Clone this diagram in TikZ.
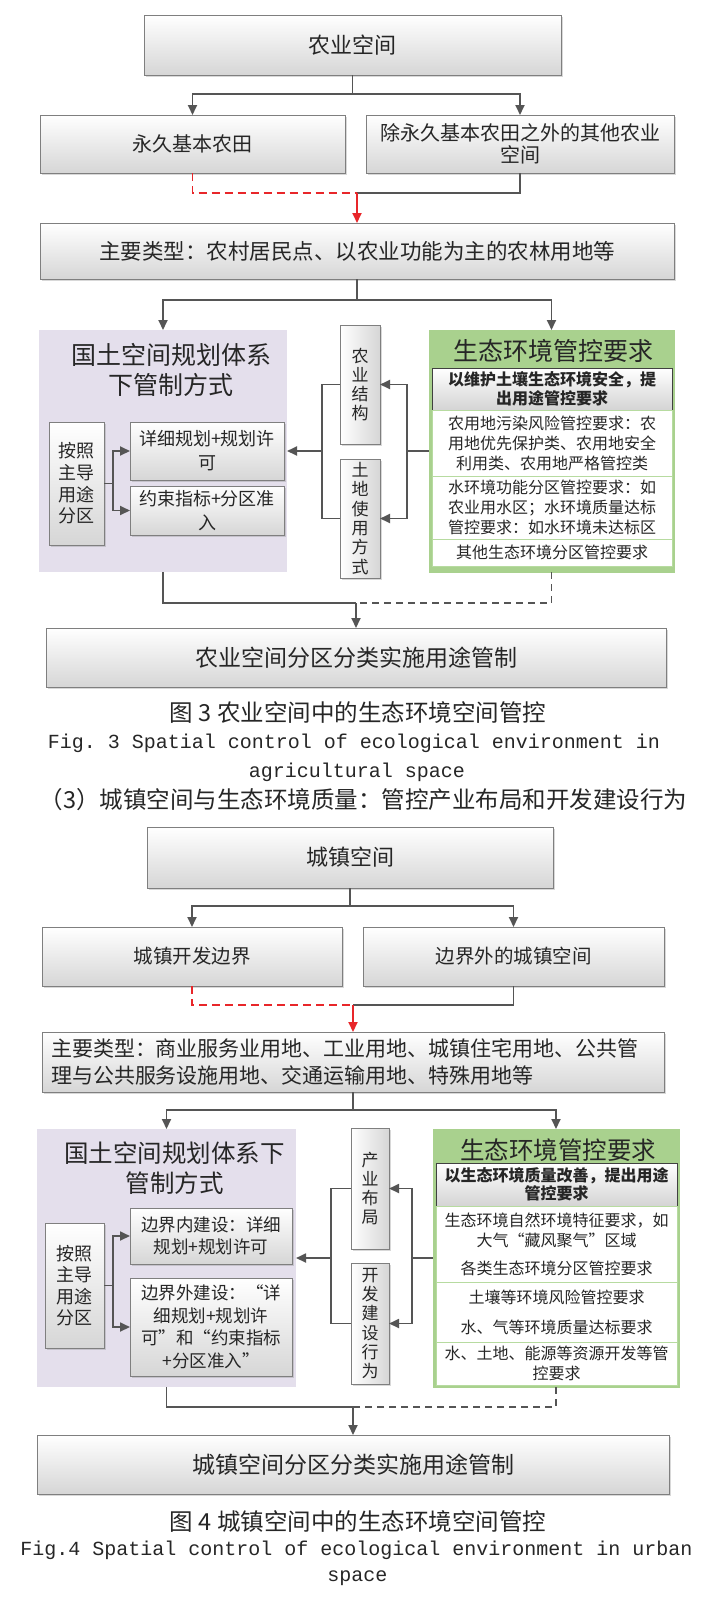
\documentclass[tikz,border=0pt]{standalone}
\usepackage{fontspec}
\setmainfont{Noto Sans CJK SC}
\setmonofont{Liberation Mono}
\usetikzlibrary{arrows.meta, positioning, shadows}

\definecolor{boxline}{HTML}{7F7F7F}
\definecolor{boxfill}{HTML}{D6D6D6}
\definecolor{linkgray}{HTML}{555555}
\definecolor{planpurple}{HTML}{E4DFEC}
\definecolor{ecogreen}{HTML}{A9D18E}
\definecolor{ecoline}{HTML}{B7DBA0}
\definecolor{linkred}{HTML}{E8262A}

\newcommand{\fsz}[2]{\fontsize{#1}{#2}\selectfont}

\begin{document}
\begin{tikzpicture}[
  x=1pt, y=-1pt,
  every node/.style={outer sep=0pt, inner sep=0pt, text=black!85},
  wh/.style 2 args={minimum width=#1pt, minimum height=#2pt},
  box/.style={draw=boxline, line width=0.8pt, top color=white, bottom color=boxfill,
              drop shadow={shadow xshift=1.5pt, shadow yshift=-1.5pt, opacity=0.3},
              align=center},
  vbox/.style={box, left color=white, right color=boxfill, text width=20pt,
               font=\fsz{17}{19.3}},
  panel/.style={fill=planpurple, draw=none},
  ecopanel/.style={fill=ecogreen, draw=ecogreen},
  headbox/.style={draw=black!75, line width=0.8pt, top color=white, bottom color=black!17,
                  drop shadow={shadow xshift=1pt, shadow yshift=-1pt, opacity=0.3},
                  font=\bfseries\fsz{16}{18.5}, align=center},
  ecorow/.style={fill=white, draw=ecoline, line width=0.8pt, align=center,
                 font=\fsz{16}{20}},
  title/.style={font=\fsz{25}{30}, align=center},
  link/.style={draw=linkgray, line width=1.8pt},
  dashlink/.style={link, dash pattern=on 7pt off 5pt},
  arrow/.style={link, -{Triangle[length=10pt, width=9pt]}},
  redlink/.style={draw=linkred, line width=1.8pt, dash pattern=on 8pt off 5pt},
  redarrow/.style={draw=linkred, line width=1.8pt, -{Triangle[length=10pt, width=9pt]}},
  caption/.style={font=\fsz{23.5}{26}},
  entext/.style={font=\ttfamily\fsz{20}{24}}
]
  \useasboundingbox (0,0) rectangle (718,1599);
  \fill[white] (0,0) rectangle (718,1599);

  % Fig. 3: agricultural space
  \node[box, wh={417}{60}, font=\fsz{22}{26}] (agri) at (352.5,45) {农业空间};
  \node[box, wh={305}{58}, font=\fsz{20}{22}] (perm) at (192.5,144) {永久基本农田};
  \node[box, wh={308}{58}, font=\fsz{20}{22}] (other) at (520,144)
    {除永久基本农田之外的其他农业\\空间};
  \node[box, wh={634}{56}, font=\fsz{21.5}{26}] (types) at (357,251)
    {主要类型：农村居民点、以农业功能为主的农林用地等};

  % planning panel (left)
  \node[panel, wh={248}{242}] (plan) at (163,451) {};
  \node[title] (plantitle) at (171,370) {国土空间规划体系\\下管制方式};
  \node[box, wh={55}{123}, font=\fsz{18}{21.7}] (zoning) at (76.5,483.5)
    {按照\\主导\\用途\\分区};
  \node[box, wh={154}{58}, font=\fsz{18}{24}] (detail) at (207,451) {详细规划+规划许\\可};
  \node[box, wh={154}{49}, font=\fsz{18}{24}] (quota) at (207,510.5) {约束指标+分区准\\入};

  % middle boxes
  \node[vbox, wh={40}{119}] (struct) at (360,384.5) {农\\业\\结\\构};
  \node[vbox, wh={40}{119}] (landuse) at (360,518.5) {土\\地\\使\\用\\方\\式};

  % eco panel (right)
  \node[ecopanel, wh={245}{242}] (eco) at (551.5,451) {};
  \node[title] (ecotitle) at (553,351) {生态环境管控要求};
  \node[headbox, wh={240}{42}] (ecohead) at (552,389)
    {以维护土壤生态环境安全，提\\出用途管控要求};
  \node[ecorow, wh={240}{66}, below=0pt of ecohead] (soil)
    {农用地污染风险管控要求：农\\用地优先保护类、农用地安全\\利用类、农用地严格管控类};
  \node[ecorow, wh={240}{63}, below=0pt of soil] (water)
    {水环境功能分区管控要求：如\\农业用水区；水环境质量达标\\管控要求：如水环境未达标区};
  \node[ecorow, wh={240}{27}, below=0pt of water] (others) {其他生态环境分区管控要求};

  \node[box, wh={620}{59}, font=\fsz{23}{26}] (final) at (356,657.5)
    {农业空间分区分类实施用途管制};

  % connectors
  \coordinate (split1) at (352.5,94);
  \draw[link] (agri) -- (split1);
  \draw[arrow] (split1) -| (perm);
  \draw[arrow] (split1) -| (other);
  \coordinate (join1) at (357,193);
  \draw[redlink] (perm) |- (join1);
  \draw[link] (other) |- (join1);
  \draw[redarrow] (join1) -- (types);
  \coordinate (split2) at (357,300);
  \draw[link] (types) -- (split2);
  \draw[arrow] (split2) -| (plan);
  \draw[arrow] (split2) -| (eco);
  \coordinate (zfork1) at (113,483.5);
  \draw[link] (zoning) -- (zfork1);
  \draw[arrow] (zfork1) |- (detail);
  \draw[arrow] (zfork1) |- (quota);
  \coordinate (fork1) at (407,451);
  \draw[link] (eco) -- (fork1);
  \draw[arrow] (fork1) |- (struct);
  \draw[arrow] (fork1) |- (landuse);
  \coordinate (merge1) at (322,451);
  \draw[link] (struct) -| (merge1);
  \draw[link] (landuse) -| (merge1);
  \draw[arrow] (merge1) -- (plan);
  \coordinate (join2) at (356,603);
  \draw[link] (plan) |- (join2);
  \draw[dashlink] (eco) |- (join2);
  \draw[arrow] (join2) -- (final);

  \node[caption] (cap3) at (358,713) {图 3 农业空间中的生态环境空间管控};
  \node[entext] (cap3en) at (354,743) {Fig. 3 Spatial control of ecological environment in};
  \node[entext] (cap3en2) at (357,772) {agricultural space};
  \node[caption, font=\fsz{23.5}{26}] (sec3) at (363.5,800)
    {（3）城镇空间与生态环境质量：管控产业布局和开发建设行为};

  % Fig. 4: urban space
  \node[box, wh={406}{61}, font=\fsz{22}{26}] (urban) at (350,857.5) {城镇空间};
  \node[box, wh={300}{59}, font=\fsz{19.5}{22}] (boundary) at (192,956.5) {城镇开发边界};
  \node[box, wh={301}{59}, font=\fsz{19.5}{22}] (outer) at (513.5,956.5) {边界外的城镇空间};
  \node[box, wh={622}{60}, font=\fsz{21}{26.5}, text width=604pt, align=left] (types2)
    at (353,1062)
    {主要类型：商业服务业用地、工业用地、城镇住宅用地、公共管\\理与公共服务设施用地、交通运输用地、特殊用地等};

  \node[panel, wh={259}{258}] (plan2) at (166.5,1258) {};
  \node[title, font=\fsz{24.5}{30}] (plantitle2) at (174.5,1168) {国土空间规划体系下\\管制方式};
  \node[box, wh={59}{125}, font=\fsz{18}{21.5}] (zoning2) at (74.5,1285.5)
    {按照\\主导\\用途\\分区};
  \node[box, wh={162}{56}, font=\fsz{17.5}{22}] (inside) at (211,1236)
    {边界内建设：详细\\规划+规划许可};
  \node[box, wh={162}{98}, font=\fsz{17.5}{22.5}] (outside) at (211,1327)
    {边界外建设：“详\\细规划+规划许\\可”和“约束指标\\+分区准入”};

  \node[vbox, wh={38}{121}] (industry) at (370,1188.5) {产\\业\\布\\局};
  \node[vbox, wh={38}{121}] (develop) at (370,1323.5) {开\\发\\建\\设\\行\\为};

  \node[ecopanel, wh={246}{258}] (eco2) at (556,1258) {};
  \node[title, font=\fsz{24.5}{30}] (ecotitle2) at (558,1150) {生态环境管控要求};
  \node[headbox, wh={241}{43}] (ecohead2) at (556.5,1184.5)
    {以生态环境质量改善，提出用途\\管控要求};
  \node[ecorow, wh={241}{76}, below=0pt of ecohead2] (nature)
    {生态环境自然环境特征要求，如\\大气“藏风聚气”区域\\[8pt]各类生态环境分区管控要求};
  \node[ecorow, wh={241}{60}, below=0pt of nature] (quality)
    {土壤等环境风险管控要求\\[10pt]水、气等环境质量达标要求};
  \node[ecorow, wh={241}{43}, below=0pt of quality] (resource)
    {水、土地、能源等资源开发等管\\控要求};

  \node[box, wh={632}{59}, font=\fsz{23}{26}] (final2) at (353,1464.5)
    {城镇空间分区分类实施用途管制};

  % connectors
  \coordinate (split3) at (350,906);
  \draw[link] (urban) -- (split3);
  \draw[arrow] (split3) -| (boundary);
  \draw[arrow] (split3) -| (outer);
  \coordinate (join3) at (353,1005);
  \draw[redlink] (boundary) |- (join3);
  \draw[link] (outer) |- (join3);
  \draw[redarrow] (join3) -- (types2);
  \coordinate (split4) at (353,1110);
  \draw[link] (types2) -- (split4);
  \draw[arrow] (split4) -| (plan2);
  \draw[arrow] (split4) -| (eco2);
  \coordinate (zfork2) at (113,1285.5);
  \draw[link] (zoning2) -- (zfork2);
  \draw[arrow] (zfork2) |- (inside);
  \draw[arrow] (zfork2) |- (outside);
  \coordinate (fork2) at (412,1258);
  \draw[link] (eco2) -- (fork2);
  \draw[arrow] (fork2) |- (industry);
  \draw[arrow] (fork2) |- (develop);
  \coordinate (merge2) at (331,1258);
  \draw[link] (industry) -| (merge2);
  \draw[link] (develop) -| (merge2);
  \draw[arrow] (merge2) -- (plan2);
  \coordinate (join4) at (353,1407);
  \draw[link] (plan2) |- (join4);
  \draw[dashlink] (eco2) |- (join4);
  \draw[arrow] (join4) -- (final2);

  \node[caption] (cap4) at (358,1522) {图 4 城镇空间中的生态环境空间管控};
  \node[entext] (cap4en) at (356.5,1550) {Fig.4 Spatial control of ecological environment in urban};
  \node[entext] (cap4en2) at (357.5,1578) {space};
\end{tikzpicture}
\end{document}
